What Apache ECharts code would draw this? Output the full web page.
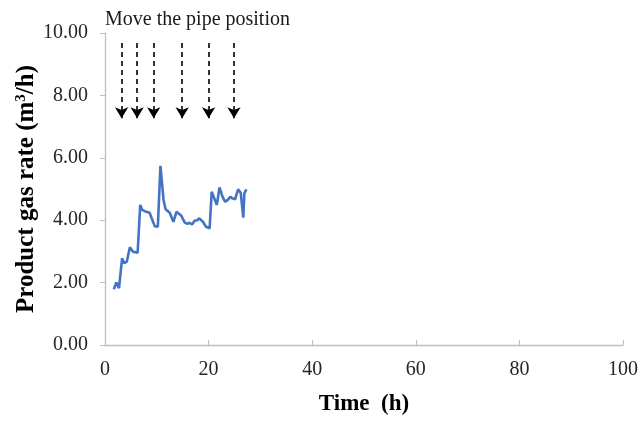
<!DOCTYPE html>
<html><head><meta charset="utf-8">
<script src="https://cdn.jsdelivr.net/npm/echarts@6/dist/echarts.min.js"></script>
<style>html,body{margin:0;padding:0;background:#fff}#c{width:641px;height:421px}</style>
</head><body><div id="c"></div>
<script>
var timeH = [1.7,2.2,2.7,3.3,3.7,4.2,4.8,5.4,6.3,6.8,7.2,7.7,8.6,9.6,10.2,10.7,11.3,11.7,12.5,13.2,13.8,14.7,15.4,15.9,16.3,16.8,17.3,17.8,18.2,18.9,19.5,20.2,20.6,21.1,21.6,22.1,22.7,23.2,23.7,24.2,24.6,25.1,25.7,26.2,26.7,26.9,27.3];
var gasRate = [1.79,2.0,1.82,2.78,2.62,2.67,3.13,2.99,2.96,4.49,4.33,4.29,4.24,3.81,3.79,5.74,4.65,4.35,4.24,3.95,4.27,4.15,3.92,3.88,3.92,3.86,3.98,4.0,4.06,3.95,3.79,3.74,4.91,4.7,4.49,5.05,4.75,4.59,4.65,4.75,4.7,4.67,4.99,4.88,4.08,4.86,4.99];
var arrowX = [3.2,6.2,9.4,14.9,20.0,24.9];
var arrowTop = 9.68, arrowBottom = 7.27;
var xTicks = [0,20,40,60,80,100];

var serif = '"Liberation Serif","Times New Roman",serif';
var chart = echarts.init(document.getElementById('c'), null, {renderer:'canvas'});
chart.setOption({
  animation:false,
  title:{text:'Move the pipe position', left:100, top:5, textStyle:{fontFamily:serif, fontSize:20, fontWeight:'normal', color:'#1a1a1a'}},
  grid:{left:105, right:15, top:33, bottom:76},
  xAxis:{type:'value', min:0, max:100, interval:20,
    name:'Time  (h)', nameLocation:'middle', nameGap:48, nameMoveOverlap:false,
    nameTextStyle:{fontFamily:serif, fontSize:23, fontWeight:'bold', color:'#000'},
    axisLine:{lineStyle:{color:'#bfbfbf', width:1.3}},
    axisTick:{show:true, inside:true, length:5, lineStyle:{color:'#bfbfbf'}},
    axisLabel:{fontFamily:serif, fontSize:20, color:'#262626', margin:15},
    splitLine:{show:false}},
  yAxis:{type:'value', min:0, max:10, interval:2,
    name:'Product gas rate (m{s|3}/h)', nameLocation:'middle', nameGap:66, nameRotate:90, nameMoveOverlap:false,
    nameTextStyle:{fontFamily:serif, fontSize:25, fontWeight:'bold', color:'#000',
      rich:{s:{fontFamily:serif, fontSize:15, fontWeight:'bold', color:'#000', verticalAlign:'top', padding:[0,0,10,0]}}},
    axisLine:{show:true, lineStyle:{color:'#bfbfbf', width:1.3}},
    axisTick:{show:true, inside:false, length:5, lineStyle:{color:'#bfbfbf'}},
    axisLabel:{fontFamily:serif, fontSize:20, color:'#262626', margin:17,
      formatter:function(v){return v.toFixed(2);}},
    splitLine:{show:false}},
  series:[{type:'line', data:timeH.map(function(t,i){return [t,gasRate[i]];}),
    showSymbol:false, symbol:'none', lineStyle:{color:'#4472c4', width:2.6}, itemStyle:{color:'#4472c4'},
    markLine:{silent:true, symbol:['none','arrow'], symbolSize:[10,11],
      label:{show:false},
      lineStyle:{color:'#000', type:[5,4], width:1.6},
      data:arrowX.map(function(x){return [{coord:[x,arrowTop]},{coord:[x,arrowBottom]}];})}
  }]
});
</script></body></html>
